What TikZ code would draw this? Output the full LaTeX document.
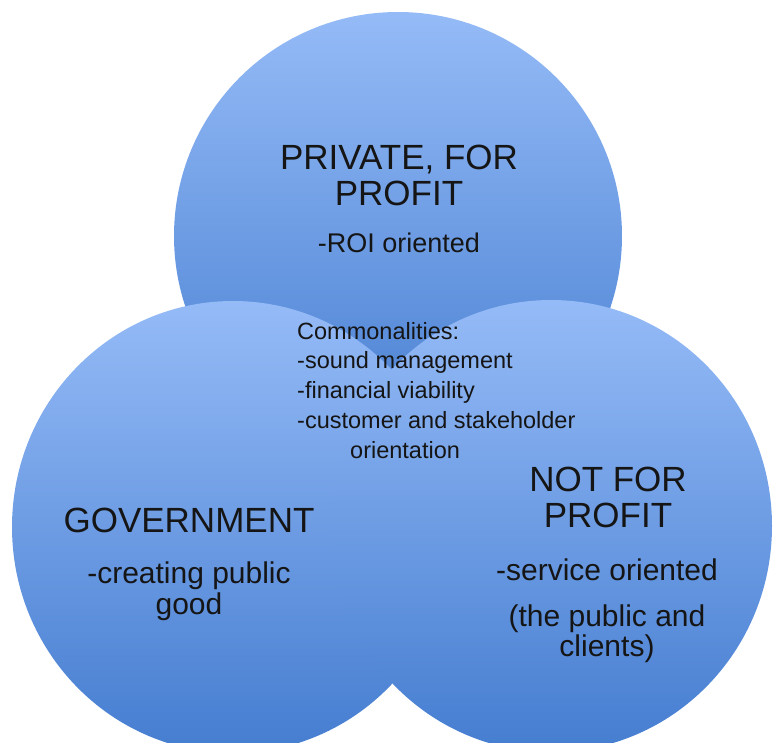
\documentclass[tikz,border=0pt]{standalone}
\usepackage{fontspec}
\setmainfont{Liberation Sans}
\usetikzlibrary{shapes.geometric}
\definecolor{circlelight}{HTML}{95BBF7}
\definecolor{circledark}{HTML}{457DD0}
\definecolor{labelink}{HTML}{151515}
\begin{document}
\begin{tikzpicture}[x=1pt,y=-1pt,
  sector/.style={ellipse,inner sep=0pt,
    top color=circlelight,bottom color=circledark,draw=none},
  titletext/.style={font=\fontsize{35}{36}\selectfont,text=labelink,anchor=base,inner sep=0pt},
  subtext/.style={font=\fontsize{30}{32}\selectfont,text=labelink,anchor=base,inner sep=0pt},
  commontext/.style={font=\fontsize{23.5}{25}\selectfont,text=labelink,anchor=base west,inner sep=0pt}]
\useasboundingbox (0,0) rectangle (776,743);

% the three sectors, top one first so the lower two overlap it
\node[sector,minimum width=448pt,minimum height=448pt] (private) at (398,236) {};
\node[sector,minimum width=442pt,minimum height=452pt] (government) at (233,527) {};
\node[sector,minimum width=442pt,minimum height=452pt] (nonprofit) at (551,526) {};

% private sector
\node[titletext] (privateA) at (399,170) {PRIVATE, FOR};
\node[titletext] (privateB) at (399,206) {PROFIT};
\node[subtext,font=\fontsize{27}{30}\selectfont] (privateC) at (399,253) {-ROI oriented};

% shared ground
\node[commontext] (commonA) at (297,339) {Commonalities:};
\node[commontext] (commonB) at (297,368) {-sound management};
\node[commontext] (commonC) at (297,398) {-financial viability};
\node[commontext] (commonD) at (297,428) {-customer and stakeholder};
\node[commontext] (commonE) at (350,458) {orientation};

% government
\node[titletext] (govA) at (189,532) {GOVERNMENT};
\node[subtext] (govB) at (189,583) {-creating public};
\node[subtext] (govC) at (189,614) {good};

% not for profit
\node[titletext] (npA) at (608,491) {NOT FOR};
\node[titletext] (npB) at (608,527) {PROFIT};
\node[subtext] (npC) at (607,580) {-service oriented};
\node[subtext] (npD) at (607,626) {(the public and};
\node[subtext] (npE) at (607,656) {clients)};
\end{tikzpicture}
\end{document}
